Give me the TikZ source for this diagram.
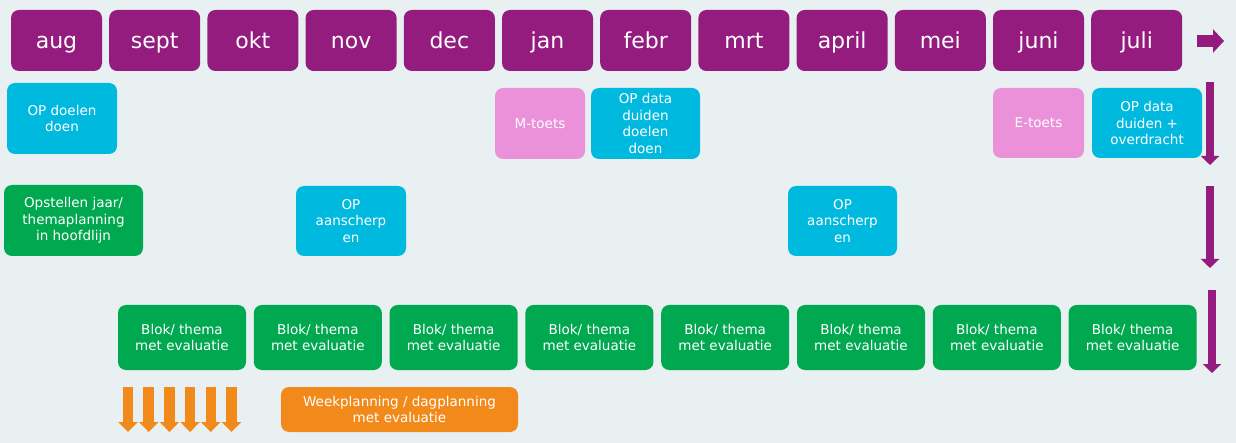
\documentclass[tikz,border=0pt]{standalone}
\usepackage{fontspec}
\setmainfont{DejaVu Sans}
\usetikzlibrary{arrows.meta}

\definecolor{achtergrond}{HTML}{E9F0F2}
\definecolor{paars}{HTML}{951C7F}
\definecolor{cyaan}{HTML}{00B9DF}
\definecolor{groen}{HTML}{00A84F}
\definecolor{roze}{HTML}{EB91D9}
\definecolor{oranje}{HTML}{F28A1B}

\tikzset{
  maand/.style={fill=paars, rounded corners=8pt, inner sep=0pt, text=white,
    minimum width=91pt, minimum height=61pt, text height=16pt, text depth=-3pt,
    font=\fontsize{22}{26}\selectfont},
  vak/.style={rounded corners=8pt, inner sep=0pt, text=white, align=center,
    font=\fontsize{13.5}{16.5}\selectfont},
  oppijl/.style={paars, line width=8pt, -{Triangle[length=9pt,width=18pt]}},
  weekpijl/.style={oranje, line width=10.5pt, -{Triangle[length=10pt,width=19pt]}}
}

\begin{document}
\begin{tikzpicture}[x=1pt,y=-1pt] %Jaarplanning
    \fill[achtergrond] (0,0) rectangle (1236,443);
    \useasboundingbox (0,0) rectangle (1236,443);

    % maanden
    \foreach \m [count=\i from 0] in {aug,sept,okt,nov,dec,jan,febr,mrt,april,mei,juni,juli}
        \node[maand] (m\i) at ({56.5+98.2*\i},40.5) {\m};

    \coordinate (tijdA) at (1197,41);
    \coordinate (tijdB) at (1224,41);
    \draw[paars, line width=12pt, -{Triangle[length=11pt,width=23pt]}] (tijdA) -- (tijdB);

    % toetsen en OP
    \node[vak, fill=cyaan, minimum width=110pt, minimum height=71pt] (opdoelen) at (62,118.5) {OP doelen\\doen};
    \node[vak, fill=roze, minimum width=90pt, minimum height=71pt] (mtoets) at (540,123.5) {M-toets};
    \node[vak, fill=cyaan, minimum width=109pt, minimum height=71pt] (opdata) at (645.5,123.5) {OP data\\duiden\\doelen\\doen};
    \node[vak, fill=roze, minimum width=91pt, minimum height=70pt] (etoets) at (1038.5,123) {E-toets};
    \node[vak, fill=cyaan, minimum width=110pt, minimum height=70pt] (overdracht) at (1147,123) {OP data\\duiden +\\overdracht};

    \node[vak, fill=groen, minimum width=139pt, minimum height=71pt] (jaarplan) at (73.5,220.5) {Opstellen jaar/\\themaplanning\\in hoofdlijn};
    \node[vak, fill=cyaan, minimum width=110pt, minimum height=70pt] (scherpA) at (351,221) {OP\\aanscherp\\en};
    \node[vak, fill=cyaan, minimum width=109pt, minimum height=70pt] (scherpB) at (842.5,221) {OP\\aanscherp\\en};

    % blokken
    \foreach \i in {0,...,7}
        \node[vak, fill=groen, minimum width=128pt, minimum height=65pt] (blok\i) at ({182+135.8*\i},337.5) {Blok/ thema\\met evaluatie};

    \node[vak, fill=oranje, minimum width=237pt, minimum height=45pt] (week) at (399.5,409.5) {Weekplanning / dagplanning\\met evaluatie};

    % pijlen rechts
    \coordinate (p1a) at (1210,82);  \coordinate (p1b) at (1210,165);
    \coordinate (p2a) at (1210,186); \coordinate (p2b) at (1210,268);
    \coordinate (p3a) at (1212,290); \coordinate (p3b) at (1212,373);
    \draw[oppijl] (p1a) -- (p1b);
    \draw[oppijl] (p2a) -- (p2b);
    \draw[oppijl] (p3a) -- (p3b);

    % weekpijlen
    \foreach \i in {0,...,5} {
        \coordinate (w\i a) at ({128+20.7*\i},387);
        \coordinate (w\i b) at ({128+20.7*\i},432);
        \draw[weekpijl] (w\i a) -- (w\i b);
    }
\end{tikzpicture}
\end{document}
